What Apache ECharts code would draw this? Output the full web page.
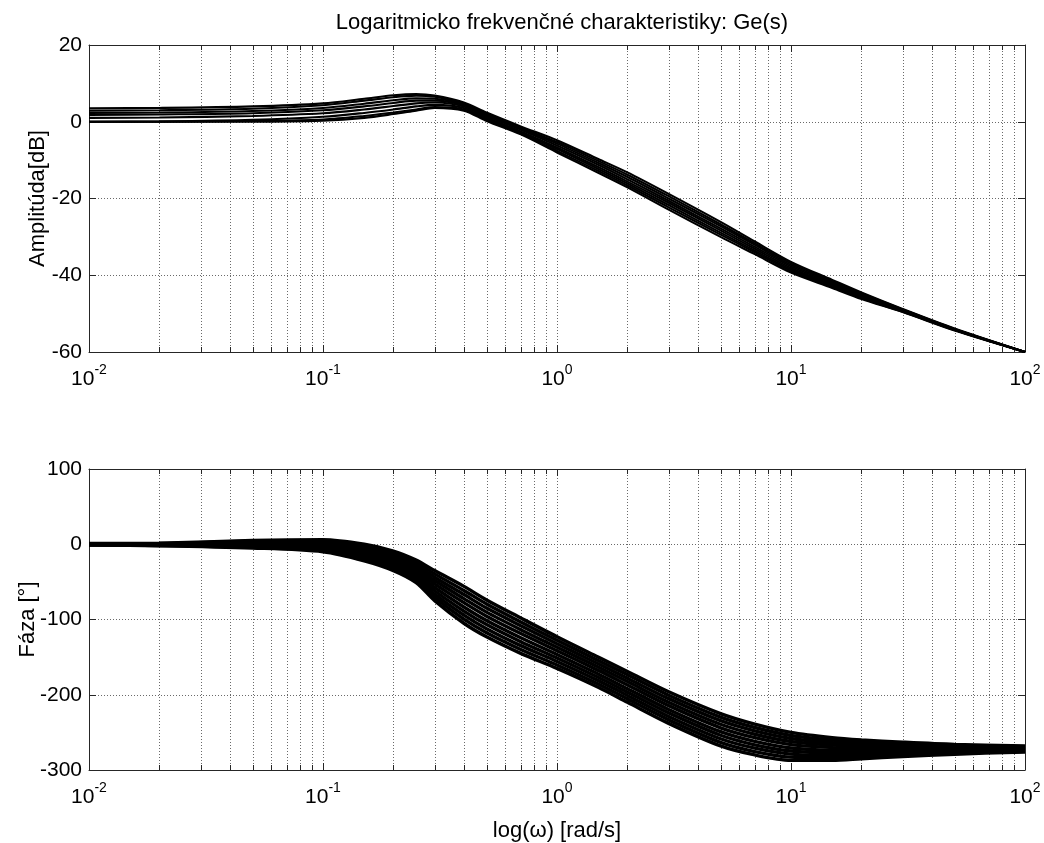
<!DOCTYPE html>
<html>
<head>
<meta charset="utf-8">
<script src="https://cdn.jsdelivr.net/npm/echarts@6/dist/echarts.min.js"></script>
<style>
html,body{margin:0;padding:0;background:#fff;}
#chart{width:1044px;height:843px;}
</style>
</head>
<body>
<div id="chart"></div>
<script>
// frequency points [rad/s]
const W = [0.01, 0.02, 0.05, 0.1, 0.15, 0.2, 0.25, 0.3, 0.4, 0.5, 0.7, 1, 1.5, 2, 3, 5, 7, 10, 15, 20, 30, 50, 100];

// amplitude curves [dB]
const A1 = [3.5, 3.6, 4.0, 4.8, 6.0, 6.9, 7.2, 6.8, 5.0, 2.4, -1.2, -4.8, -9.7, -13.2, -18.8, -26.1, -31.2, -36.5, -41.2, -44.5, -48.8, -53.9, -60];
const A2 = [2.9, 3.0, 3.4, 4.3, 5.5, 6.4, 6.8, 6.5, 4.8, 2.1, -1.5, -5.3, -10.2, -13.8, -19.4, -26.7, -31.7, -36.9, -41.5, -44.7, -48.9, -54.0, -60];
const A3 = [2.3, 2.4, 2.8, 3.6, 4.7, 5.6, 6.1, 6.0, 4.6, 1.8, -1.8, -5.7, -10.7, -14.4, -20.0, -27.2, -32.1, -37.3, -41.8, -45.0, -49.0, -54.0, -60];
const A4 = [1.8, 1.9, 2.2, 3.0, 4.0, 4.9, 5.5, 5.5, 4.3, 1.5, -2.1, -6.2, -11.2, -15.0, -20.6, -27.8, -32.6, -37.7, -42.1, -45.2, -49.1, -54.1, -60];
const A5 = [1.0, 1.1, 1.5, 2.2, 3.2, 4.1, 4.8, 5.0, 4.0, 1.1, -2.5, -6.7, -11.8, -15.6, -21.1, -28.3, -33.1, -38.1, -42.4, -45.5, -49.3, -54.2, -60];
const A6 = [0.0, 0.1, 0.5, 1.3, 2.3, 3.2, 4.0, 4.4, 3.6, 0.8, -2.8, -7.1, -12.3, -16.1, -21.7, -28.9, -33.6, -38.5, -42.7, -45.7, -49.4, -54.3, -60];
const A7 = [0.0, 0.0, 0.2, 0.6, 1.5, 2.4, 3.2, 3.8, 3.2, 0.5, -3.1, -7.6, -12.8, -16.6, -22.3, -29.4, -34.0, -38.9, -43.0, -46.0, -49.5, -54.3, -60];
const A8 = [0.0, 0.0, 0.0, 0.3, 1.0, 2.0, 2.9, 3.6, 2.9, 0.2, -3.3, -8.0, -13.3, -17.1, -22.9, -30.0, -34.5, -39.3, -43.3, -46.2, -49.6, -54.4, -60];

// phase curves [deg]
const P1  = [1, 1.5, 5, 6, 0, -9, -21, -35, -56, -74, -98, -123, -150, -169, -196, -225, -239, -250, -257, -260, -263, -266, -268];
const P2  = [0.8, 1.1, 3.9, 4.2, -2.4, -11.9, -24.3, -39.4, -61.4, -79.4, -103.2, -127.6, -154.4, -173.5, -200.6, -229.7, -243.5, -254.1, -260.3, -262.8, -265.1, -267.4, -268.9];
const P3  = [0.6, 0.7, 2.8, 2.5, -4.8, -14.7, -27.6, -43.8, -66.8, -84.8, -108.3, -132.2, -158.8, -178, -205.2, -234.5, -248, -258.1, -263.6, -265.5, -267.2, -268.9, -269.8];
const P4  = [0.3, 0.3, 1.7, 0.7, -7.3, -17.6, -30.9, -48.2, -72.2, -90.2, -113.5, -136.9, -163.2, -182.5, -209.9, -239.2, -252.5, -262.2, -266.9, -268.3, -269.3, -270.3, -270.6];
const P5  = [0.1, -0.1, 0.6, -1.0, -9.7, -20.4, -34.2, -52.6, -77.6, -95.6, -118.7, -141.5, -167.6, -187, -214.5, -243.9, -257, -266.3, -270.2, -271, -271.4, -271.7, -271.5];
const P6  = [-0.1, -0.5, -0.6, -3.0, -12.3, -23.6, -37.8, -57.4, -83.4, -101.4, -124.3, -146.5, -172.4, -192, -219.5, -249.1, -262, -270.7, -273.8, -274, -273.6, -273.3, -272.5];
const P7  = [-0.3, -0.8, -1.7, -4.7, -14.7, -26.4, -41.1, -61.8, -88.8, -106.8, -129.5, -151.1, -176.8, -196.5, -224.1, -253.8, -266.5, -274.8, -277.1, -276.8, -275.7, -274.7, -273.4];
const P8  = [-0.6, -1.2, -2.8, -6.5, -17.2, -29.3, -44.4, -66.2, -94.2, -112.2, -134.7, -155.8, -181.2, -201, -228.8, -258.5, -271, -278.9, -280.4, -279.5, -277.8, -276.1, -274.2];
const P9  = [-0.8, -1.6, -3.9, -8.2, -19.6, -32.1, -47.7, -70.6, -99.6, -117.6, -139.8, -160.4, -185.6, -205.5, -233.4, -263.3, -275.5, -282.9, -283.7, -282.3, -279.9, -277.6, -275.1];
const P10 = [-1, -2, -5, -10, -22, -35, -51, -75, -105, -123, -145, -165, -190, -210, -238, -268, -280, -287, -287, -285, -282, -279, -276];

const AMP = [A1, A2, A3, A4, A5, A6, A7, A8];
const PHASE = [P1, P2, P3, P4, P5, P6, P7, P8, P9, P10];

// minor log grid positions
const MINOR_X = [0.02,0.03,0.04,0.05,0.06,0.07,0.08,0.09,
                 0.2,0.3,0.4,0.5,0.6,0.7,0.8,0.9,
                 2,3,4,5,6,7,8,9,
                 20,30,40,50,60,70,80,90];

const TITLE = 'Logaritmicko frekvenčné charakteristiky: Ge(s)';
const Y1_NAME = 'Amplitúda[dB]';
const Y2_NAME = 'Fáza [°]';
const X_NAME = 'log(ω) [rad/s]';

const FONT = '"Liberation Sans", Arial, Helvetica, sans-serif';
const FS = 21;
const FS_TEXT = 22;
const AXIS_COLOR = '#262626';
const GRID_COLOR = '#6a6a6a';
const DOT = [1, 2];

const chart = echarts.init(document.getElementById('chart'), null, {renderer: 'canvas'});

const grids = [
  {left: 89, right: 19, top: 45, height: 307},
  {left: 89, right: 19, top: 469, height: 308}
];
const yRanges = [[-60, 20, 20], [-300, 100, 100]];
const yNameGaps = [40, 50];

function xAxisDef(gi, pos, showLabels, name) {
  return {
    type: 'log', logBase: 10, min: 0.01, max: 100, gridIndex: gi, position: pos,
    axisLine: {show: true, onZero: false, lineStyle: {color: AXIS_COLOR, width: 1}},
    axisTick: {show: true, inside: true, length: 7, lineStyle: {color: AXIS_COLOR}},
    splitLine: {show: pos === 'bottom', lineStyle: {color: GRID_COLOR, type: DOT, width: 1}},
    axisLabel: {
      show: showLabels, margin: 11, color: '#000', fontFamily: FONT,
      formatter: function (v) { return '{b|10}{s|' + Math.round(Math.log10(v)) + '}'; },
      rich: {
        b: {fontSize: FS, fontFamily: FONT, color: '#000', padding: [6, 0, 0, 0]},
        s: {fontSize: 14, fontFamily: FONT, color: '#000', verticalAlign: 'top', padding: [0, 0, 0, 0]}
      }
    },
    name: name || '', nameLocation: 'middle', nameGap: 50, nameMoveOverlap: false,
    nameTextStyle: {fontSize: FS_TEXT, fontFamily: FONT, color: '#000'}
  };
}
function yAxisDef(gi, pos, showLabels, name) {
  const r = yRanges[gi];
  return {
    type: 'value', min: r[0], max: r[1], interval: r[2], gridIndex: gi, position: pos,
    axisLine: {show: true, onZero: false, lineStyle: {color: AXIS_COLOR, width: 1}},
    axisTick: {show: true, inside: true, length: 7, lineStyle: {color: AXIS_COLOR}},
    splitLine: {show: pos === 'left', lineStyle: {color: GRID_COLOR, type: DOT, width: 1}},
    axisLabel: {show: showLabels, margin: 7, color: '#000', fontSize: FS, fontFamily: FONT},
    name: name || '', nameLocation: 'middle', nameGap: yNameGaps[gi], nameRotate: 90, nameMoveOverlap: false,
    nameTextStyle: {fontSize: FS_TEXT, fontFamily: FONT, color: '#000'}
  };
}

const xAxes = [
  xAxisDef(0, 'bottom', true), xAxisDef(0, 'top', false),
  xAxisDef(1, 'bottom', true, X_NAME), xAxisDef(1, 'top', false)
];
const yAxes = [
  yAxisDef(0, 'left', true, Y1_NAME), yAxisDef(0, 'right', false),
  yAxisDef(1, 'left', true, Y2_NAME), yAxisDef(1, 'right', false)
];

function minorSeries(gi) {
  const r = yRanges[gi];
  return {
    type: 'custom', xAxisIndex: gi * 2, yAxisIndex: gi * 2, z: 1, silent: true,
    data: MINOR_X.map(function (v) { return [v, r[0]]; }),
    renderItem: function (params, api) {
      const x = api.value(0);
      const pb = api.coord([x, r[0]]);
      const pt = api.coord([x, r[1]]);
      const xx = Math.round(pb[0]) + 0.5;
      return {
        type: 'group',
        children: [
          {type: 'line', shape: {x1: xx, y1: pt[1], x2: xx, y2: pb[1]},
           style: {stroke: GRID_COLOR, lineWidth: 1, lineDash: DOT}},
          {type: 'line', shape: {x1: xx, y1: pb[1], x2: xx, y2: pb[1] - 5},
           style: {stroke: AXIS_COLOR, lineWidth: 1}},
          {type: 'line', shape: {x1: xx, y1: pt[1], x2: xx, y2: pt[1] + 5},
           style: {stroke: AXIS_COLOR, lineWidth: 1}}
        ]
      };
    }
  };
}

const series = [minorSeries(0), minorSeries(1)];
AMP.forEach(function (c, i) {
  series.push({
    type: 'line', name: 'A' + (i + 1), xAxisIndex: 0, yAxisIndex: 0, z: 3,
    data: W.map(function (w, k) { return [w, c[k]]; }),
    showSymbol: false, smooth: 0.3, silent: true,
    lineStyle: {color: '#000', width: 2.1}
  });
});
PHASE.forEach(function (c, i) {
  series.push({
    type: 'line', name: 'P' + (i + 1), xAxisIndex: 2, yAxisIndex: 2, z: 3,
    data: W.map(function (w, k) { return [w, c[k]]; }),
    showSymbol: false, smooth: 0.3, silent: true,
    lineStyle: {color: '#000', width: 3.4}
  });
});

chart.setOption({
  animation: false,
  backgroundColor: '#fff',
  textStyle: {fontFamily: FONT},
  title: {
    text: TITLE, left: 557, top: 7, textAlign: 'center',
    textStyle: {fontSize: FS_TEXT, fontWeight: 'normal', fontFamily: FONT, color: '#000'}
  },
  grid: grids,
  xAxis: xAxes,
  yAxis: yAxes,
  series: series
});
</script>
</body>
</html>
